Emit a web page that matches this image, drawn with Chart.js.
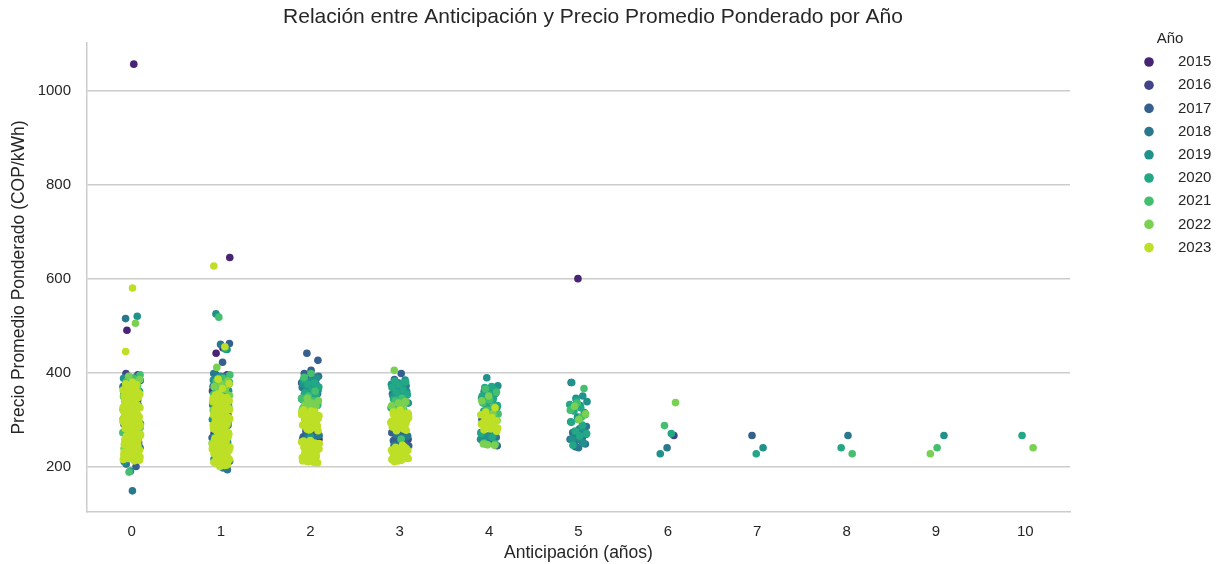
<!DOCTYPE html>
<html>
<head>
<meta charset="utf-8">
<script src="https://cdn.jsdelivr.net/npm/chart.js@4.4.1/dist/chart.umd.min.js"></script>
<style>
  html, body { margin: 0; padding: 0; background: #ffffff; }
  #wrap { width: 1227px; height: 564px; position: relative; }
</style>
</head>
<body>
<div id="wrap"><canvas id="c" width="1227" height="564"></canvas></div>
<script>
// ---------- DATA ----------
const categories = [0, 1, 2, 3, 4, 5, 6, 7, 8, 9, 10];
const years = [2015, 2016, 2017, 2018, 2019, 2020, 2021, 2022, 2023];
const yTicks = [200, 400, 600, 800, 1000];
const titleText = "Relación entre Anticipación y Precio Promedio Ponderado por Año";
const xLabel = "Anticipación (años)";
const yLabel = "Precio Promedio Ponderado (COP/kWh)";
const legendTitle = "Año";

// values per year, one list per anticipation category (0..10)
const p2015 = [
  [1057, 490, 395, 386, 372, 300, 262, 241, 228],
  [645, 453, 441, 395, 380, 360, 341, 318, 301, 275, 252],
  [265, 258, 270],
  [],
  [],
  [600],
  [], [], [], [], []
];
const p2016 = [
  [398, 380, 351, 321, 300, 282, 251, 231, 215],
  [390, 378, 361, 345, 330, 311, 290, 271, 250, 232],
  [300, 270, 262, 258, 267],
  [262, 250, 258],
  [],
  [],
  [266], [], [], [], []
];
const p2017 = [
  [200, 391, 383, 371, 355, 341, 311, 290, 271, 236, 216],
  [462, 422, 396, 388, 380, 371, 358, 346, 333, 321, 305, 291, 275, 261, 240, 226],
  [441, 426, 405, 398, 390, 385, 378, 360, 275, 270, 268, 263, 260, 255],
  [398, 385, 350, 280, 272, 270, 266, 262, 258, 255, 251, 248, 244, 240],
  [300, 255, 248, 244, 252],
  [379, 260, 242],
  [], [266], [], [], []
];
const p2018 = [
  [148, 515, 392, 381, 370, 361, 345, 331, 315, 302, 280, 261, 240, 228, 205],
  [193, 460, 398, 392, 386, 376, 366, 358, 351, 341, 331, 316, 301, 288, 276, 258, 241, 225, 211, 197],
  [392, 385, 380, 376, 372, 368, 365, 360, 355, 350, 348, 342, 272, 266, 262, 258],
  [380, 372, 364, 355, 347, 268, 265, 252, 245],
  [345, 320, 285, 272, 270, 266, 262, 258, 255, 250],
  [285, 280, 272, 270, 262, 258, 255, 250, 248, 240],
  [240], [], [266], [], []
];
const p2019 = [
  [520, 190, 388, 376, 365, 356, 341, 330, 321, 305, 291, 270, 256, 240, 226, 210],
  [525, 449, 392, 384, 378, 369, 361, 350, 341, 328, 316, 300, 286, 268, 251, 232, 216],
  [388, 382, 376, 371, 368, 363, 360, 355, 350, 346, 343, 338, 335, 330, 264],
  [384, 378, 375, 370, 365, 360, 355, 350, 345, 340, 335, 260],
  [389, 372, 366, 360, 355, 350, 345, 340, 332, 325, 318, 310, 268, 265, 258],
  [379, 350, 345, 338, 330, 322, 315, 305, 295, 282, 275, 268, 262, 258, 250],
  [227], [240], [], [266], []
];
const p2020 = [
  [385, 371, 360, 351, 340, 331, 315, 301, 288, 276, 262, 251, 235, 221],
  [450, 388, 380, 372, 364, 356, 346, 336, 323, 311, 295, 281, 262, 246],
  [385, 378, 375, 369, 362, 357, 352, 348, 345, 341, 338, 332],
  [382, 380, 374, 368, 363, 358, 353, 348, 343, 338, 330, 325],
  [370, 368, 362, 355, 350, 345, 337, 330, 324, 318, 308, 300, 270, 262],
  [340, 332, 325, 318, 310, 300, 294, 288, 275, 270, 265, 245],
  [270], [227], [240], [], [266]
];
const p2021 = [
  [188, 395, 388, 381, 373, 366, 355, 346, 336, 326, 316, 306, 296, 286, 272, 261, 250, 241, 228, 216],
  [518, 395, 388, 381, 372, 363, 353, 343, 335, 326, 313, 301, 286, 271, 250, 231],
  [398, 390, 360, 350, 345, 340, 336, 332, 328, 325, 321],
  [345, 340, 336, 330, 326, 320, 316, 312, 258],
  [365, 358, 342, 335, 328, 320, 312, 305, 250, 248],
  [366, 335, 320, 305],
  [287], [], [227], [240], []
];
const p2022 = [
  [505, 392, 385, 378, 370, 363, 356, 349, 342, 336, 327, 318, 309, 301, 292, 283, 274, 266, 255, 246, 238, 231, 222, 216],
  [411, 382, 376, 370, 364, 357, 351, 345, 339, 333, 326, 320, 312, 305, 297, 290, 280, 270, 260, 250, 239, 228, 216, 205],
  [345, 340, 335, 331, 328, 324, 320, 316, 312, 308, 302],
  [405, 338, 335, 329, 325, 318, 300],
  [350, 340, 312, 306, 298, 290, 248, 245, 246],
  [328, 312, 300],
  [336], [], [], [227], [240]
];
const p2023 = [
  [580, 445, 374, 369, 363, 358, 353, 347, 343, 338, 334, 329, 325, 320, 316, 311, 307, 303, 298, 294,
   290, 286, 281, 277, 273, 268, 264, 260, 256, 251, 247, 243, 239, 235, 231, 227, 223, 219, 215, 212,
   366, 356, 341, 328, 314, 300, 288, 275, 262, 249, 237, 225, 214, 337, 306, 282, 254, 233, 218, 296,
   270, 245, 228, 310, 350, 371, 361, 354, 345, 336, 331, 322, 318, 309, 304, 299, 292, 287, 279, 272,
   266, 259, 252, 244, 238, 230, 222, 217, 213, 380, 376, 359, 348, 326, 313, 297, 284, 271, 257, 241,
   226, 220, 234, 265, 301],
  [627, 455, 386, 376, 366, 352, 347, 343, 338, 333, 329, 324, 320, 316, 311, 307, 302, 298, 294, 290,
   286, 281, 277, 273, 268, 264, 260, 256, 251, 247, 243, 239, 235, 231, 227, 223, 219, 215, 211, 207,
   203, 200, 345, 331, 318, 304, 292, 279, 266, 253, 241, 229, 217, 205, 336, 309, 284, 258, 234, 212,
   323, 296, 270, 245, 221, 300, 262, 349, 341, 335, 327, 321, 313, 306, 300, 293, 288, 283, 275, 271,
   262, 258, 249, 244, 237, 233, 225, 220, 214, 209, 202, 354, 340, 317, 297, 274, 255, 236, 218],
  [320, 316, 312, 308, 304, 300, 296, 292, 288, 284, 280, 276, 318, 306, 294, 282, 310, 290, 298, 286,
   255, 251, 247, 243, 239, 235, 231, 227, 223, 219, 215, 211, 208, 253, 241, 229, 217, 249, 233, 213,
   245, 225, 319, 314, 309, 302, 297, 289, 283, 278, 315, 305, 293, 287, 279, 254, 250, 244, 237, 233,
   226, 221, 216, 212, 209, 246, 238, 230, 222, 214, 210, 252],
  [320, 316, 312, 308, 304, 300, 296, 292, 288, 284, 280, 276, 314, 302, 290, 282, 307, 295,
   245, 241, 237, 233, 229, 225, 221, 217, 213, 210, 239, 227, 215, 243, 231, 219, 318, 311, 305,
   299, 293, 287, 281, 277, 309, 297, 243, 238, 234, 229, 223, 218, 212, 235, 226, 216],
  [310, 304, 300, 297, 295, 292, 288, 285, 282, 280, 278, 325, 303, 290, 283, 316, 275],
  [],
  [], [], [], [], []
];

const colors = ['#482475', '#414487', '#355f8d', '#2a788e', '#21918c', '#22a884', '#44bf70', '#7ad151', '#bddf26'];
const yearValues = [p2015, p2016, p2017, p2018, p2019, p2020, p2021, p2022, p2023];

// ---------- BUILD (strip-plot jitter, deterministic) ----------
const jitterWidth = 0.1;
const counters = categories.map(() => 0);
const datasets = years.map((yr, yi) => {
  const pts = [];
  yearValues[yi].forEach((vals, ci) => {
    vals.forEach(v => {
      counters[ci] += 1;
      const f = (counters[ci] * 0.6180339887 + ci * 0.37) % 1;
      pts.push({ x: categories[ci] + (f * 2 - 1) * jitterWidth, y: v });
    });
  });
  return {
    label: String(yr),
    data: pts,
    backgroundColor: colors[yi],
    borderWidth: 0,
    pointRadius: 3.8,
    pointHoverRadius: 3.8,
    order: years.length - 1 - yi
  };
});

const FONT = "'Liberation Sans', Arial, sans-serif";
const TXT = '#262626';

const overlay = {
  id: 'overlay',
  afterDraw(chart) {
    const ctx = chart.ctx;
    ctx.save();
    // title
    ctx.fillStyle = TXT;
    ctx.font = "21px " + FONT;
    ctx.textAlign = 'center';
    ctx.textBaseline = 'middle';
    ctx.fillText(titleText, 593, 17);
    // legend
    ctx.font = "15px " + FONT;
    ctx.fillText(legendTitle, 1170, 39);
    chart.data.datasets.forEach((ds, i) => {
      const y = 62 + i * 23.2;
      ctx.beginPath();
      ctx.arc(1149, y, 4.8, 0, Math.PI * 2);
      ctx.fillStyle = ds.backgroundColor;
      ctx.fill();
      ctx.fillStyle = TXT;
      ctx.textAlign = 'left';
      ctx.fillText(ds.label, 1178, y);
    });
    ctx.restore();
  }
};

new Chart(document.getElementById('c'), {
  type: 'scatter',
  data: { datasets },
  options: {
    responsive: false,
    animation: false,
    events: [],
    layout: { padding: { left: 0, right: 157, top: 43, bottom: 0 } },
    plugins: { legend: { display: false }, title: { display: false }, tooltip: { enabled: false } },
    scales: {
      x: {
        type: 'linear',
        min: -0.5,
        max: 10.5,
        afterBuildTicks: (axis) => { axis.ticks = categories.map(v => ({ value: v })); },
        afterFit: (axis) => { axis.height = 52; },
        grid: { display: false, drawTicks: false },
        border: { display: true, color: '#cccccc', width: 1.5 },
        ticks: { color: TXT, font: { family: FONT, size: 15 }, padding: 11, callback: v => String(v) },
        title: { display: true, text: xLabel, color: TXT, font: { family: FONT, size: 17.5 }, padding: { top: 0, bottom: 0.5 } }
      },
      y: {
        type: 'linear',
        min: 103,
        max: 1102,
        afterBuildTicks: (axis) => { axis.ticks = yTicks.map(v => ({ value: v })); },
        afterFit: (axis) => { axis.width = 87; },
        grid: { display: true, color: '#cccccc', lineWidth: 1.5, drawTicks: false },
        border: { display: true, color: '#cccccc', width: 1.5 },
        ticks: { color: TXT, font: { family: FONT, size: 15 }, padding: 16, callback: v => String(v) },
        title: { display: true, text: yLabel, color: TXT, font: { family: FONT, size: 17.5 }, padding: { top: 8.5, bottom: 0 } }
      }
    }
  },
  plugins: [overlay]
});
</script>
</body>
</html>
